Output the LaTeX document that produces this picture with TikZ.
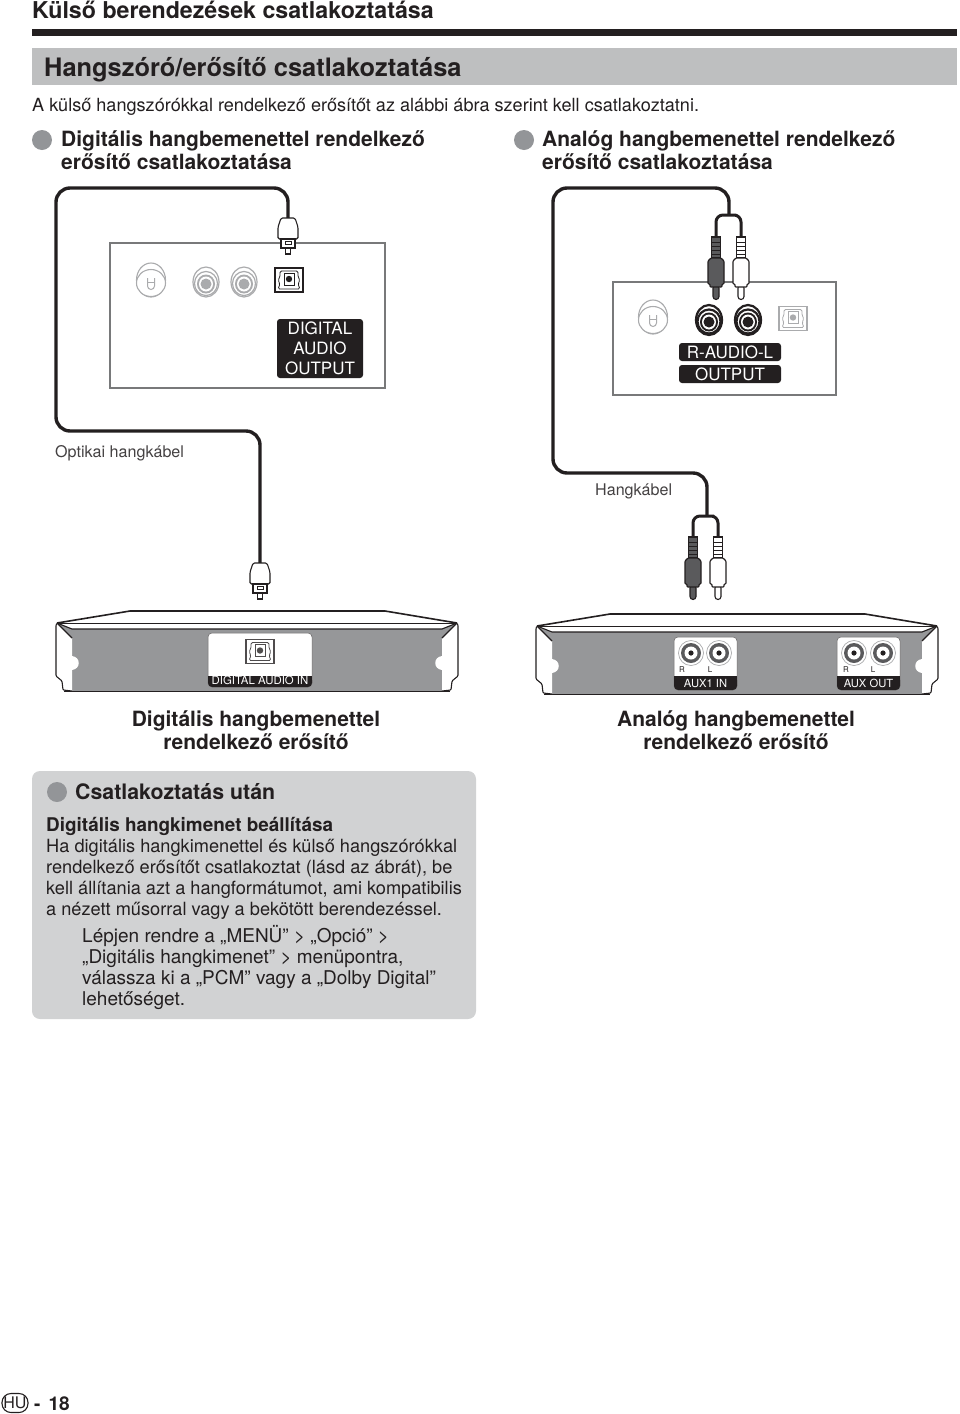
\documentclass[tikz,border=0pt]{standalone}
\usepackage{fontspec}
\setmainfont{TeX Gyre Heros}
\usepackage{tikz}
\definecolor{inkblack}{RGB}{35,31,32}
\definecolor{bandgray}{RGB}{190,191,192}
\definecolor{boxgray}{RGB}{209,210,211}
\definecolor{dotgray}{RGB}{147,149,152}
\definecolor{bodygray}{RGB}{150,151,153}
\definecolor{plugdark}{RGB}{90,90,92}
\definecolor{jackgray}{RGB}{170,171,173}
\tikzset{
  txt/.style={anchor=base west,inner sep=0pt,text=inkblack,align=left},
  cable/.style={draw=inkblack,line width=3.4,rounded corners=14},
  branch/.style={draw=inkblack,line width=3,rounded corners=7},
  tag/.style={fill=inkblack,rounded corners=3,text=white,inner sep=0pt,align=center},
  dot/.style={circle,fill=dotgray,minimum size=20,inner sep=0pt},
  outline/.style={draw=inkblack,line width=1.1}
}
% optical plug, top centre at (#1,#2)
\newcommand{\optplug}[2]{
  \begin{scope}[shift={(#1,#2)}]
    \filldraw[fill=white,draw=inkblack,line width=1.1,rounded corners=1.5]
      (-7,0)--(7,0)--(10,9)--(10,21)--(-10,21)--(-10,9)--cycle;
    \filldraw[fill=white,outline] (-7,21) rectangle (7,30);
    \draw[line width=.8,draw=inkblack] (-3,23) rectangle (3,26.5);
    \filldraw[fill=white,outline] (-2.5,30) rectangle (2.5,36);
  \end{scope}}
% RCA plug, top centre at (#1,#2), body colour #3
\newcommand{\rcaplug}[3]{
  \begin{scope}[shift={(#1,#2)}]
    \filldraw[fill=#3,outline] (-4.5,0) rectangle (4.5,21);
    \foreach \yb in {5,9,13,17}{\draw[draw=inkblack,line width=.9] (-4.5,\yb)--(4.5,\yb);}
    \filldraw[fill=#3,outline,rounded corners=3] (-3,48)--(-3,62.5)--(3,62.5)--(3,48)--cycle;
    \filldraw[fill=#3,outline,rounded corners=.8] (-5,21)--(5,21)--(8,24)--(8,47)--(6,47)--(6,50)--(-6,50)--(-6,47)--(-8,47)--(-8,24)--cycle;
  \end{scope}}
% optical socket, centre (#1,#2), colour #3
\newcommand{\optjack}[3]{
  \begin{scope}[shift={(#1,#2)}]
    \draw[draw=#3,line width=1.2,fill=white] (-14,-12) rectangle (14,12);
    \draw[draw=#3,line width=.8,rounded corners=1.5] (-9,-9)--(9,-9)--(9,-3)--(11,0)--(9,4)--(11,9)--(-11,9)--(-9,4)--(-11,0)--(-9,-3)--cycle;
    \filldraw[draw=#3,line width=.8,fill=white] (-5,-7) rectangle (5,5);
    \fill[#3] (0,-1) circle (3.2);
  \end{scope}}
% RCA socket on a panel, centre (#1,#2), colour #3, barrel width #4
\newcommand{\panjack}[4]{
  \begin{scope}[shift={(#1,#2)}]
    \filldraw[draw=#3,line width=#4,fill=white] (0,0) ellipse (13 and 15);
    \filldraw[draw=#3,line width=#4,fill=white] (0,1.5) ellipse (11.5 and 12);
    \fill[#3] (0,2) ellipse (9 and 9.5);
    \fill[white] (0,2) ellipse (7 and 7.5);
    \fill[#3] (0,2) ellipse (5.5 and 5.5);
  \end{scope}}
% antenna socket, centre (#1,#2)
\newcommand{\antjack}[2]{
  \begin{scope}[shift={(#1,#2)}]
    \filldraw[draw=jackgray,line width=1.1,fill=white] (0,0) ellipse (14.5 and 17);
    \filldraw[draw=jackgray,line width=1.1,fill=white] (0,3) ellipse (14.5 and 13.5);
    \draw[draw=jackgray,line width=1] (-3.5,-2)--(-3.5,6) arc (180:0:3.5)--(3.5,-2);
    \draw[draw=jackgray,line width=1] (-3.5,2)--(3.5,2);
  \end{scope}}
% RCA socket on the rear of the amplifier
\newcommand{\auxjack}[2]{
  \draw[draw=jackgray,line width=.7] (#1,#2) circle (12.5);
  \fill[plugdark] (#1,#2) circle (10);
  \fill[white] (#1,#2) circle (6.5);
  \fill[inkblack] (#1,#2) circle (2.6);}
\begin{document}
\begin{tikzpicture}[x=1pt,y=-1pt]
  \useasboundingbox (0,0) rectangle (960,1414);
  \fill[white] (0,0) rectangle (960,1414);

  % headings
  \node[txt,font=\bfseries\fontsize{23.2}{26}\selectfont] (maintitle) at (32,18) {Külső berendezések csatlakoztatása};
  \fill[inkblack] (32,29) rectangle (957,36);
  \fill[bandgray] (32,48) rectangle (957,85);
  \node[txt,font=\bfseries\fontsize{25.4}{28}\selectfont] (subtitle) at (44,76) {Hangszóró/erősítő csatlakoztatása};
  \node[txt,font=\fontsize{18.1}{24}\selectfont] (intro) at (32,111) {A külső hangszórókkal rendelkező erősítőt az alábbi ábra szerint kell csatlakoztatni.};
  \node[dot] (dotdig) at (42,140) {};
  \node[dot] (dotana) at (524,140) {};
  \node[txt,font=\bfseries\fontsize{21}{23}\selectfont] (headdig) at (61,169) {Digitális hangbemenettel rendelkező\\erősítő csatlakoztatása};
  \node[txt,font=\bfseries\fontsize{21}{23}\selectfont] (headana) at (542,169) {Analóg hangbemenettel rendelkező\\erősítő csatlakoztatása};

  % TV panels
  \draw[draw=bodygray!80!black,line width=1.1,fill=white] (110,243) rectangle (385,388);
  \antjack{151}{280}
  \panjack{206}{282}{jackgray}{1.2}
  \panjack{244}{282}{jackgray}{1.2}
  \optjack{289}{280}{inkblack}
  \node[tag,minimum width=86,minimum height=59,font=\fontsize{17}{20}\selectfont] (digout) at (320,348.5) {DIGITAL\\AUDIO\\OUTPUT};

  \draw[draw=bodygray!80!black,line width=1.1,fill=white] (613,282) rectangle (836,395);
  \antjack{653}{317}
  \panjack{709}{320}{inkblack}{2.2}
  \panjack{748}{320}{inkblack}{2.2}
  \optjack{793}{318.5}{jackgray}
  \node[tag,minimum width=102,minimum height=18,font=\fontsize{17}{20}\selectfont] (audiolr) at (730,352) {R-AUDIO-L};
  \node[tag,minimum width=102,minimum height=18,font=\fontsize{17}{20}\selectfont] (audioout) at (730,374) {OUTPUT};

  % cables
  \coordinate (optA) at (288,220);
  \coordinate (optB) at (260,565);
  \coordinate (rcaA) at (729,215);
  \coordinate (rcaB) at (707,516);
  \coordinate (rcaAl) at (716,238);
  \coordinate (rcaAr) at (741,238);
  \coordinate (rcaBl) at (693,538);
  \coordinate (rcaBr) at (718,538);
  \draw[cable] (optA) |- (56,188) -- (56,431) -| (optB);
  \draw[cable] (rcaA) |- (553,188) -- (553,473) -| (rcaB);
  \draw[branch] (rcaAl) |- (729,215) -| (rcaAr);
  \draw[branch] (rcaBl) |- (707,516) -| (rcaBr);

  % plugs
  \optplug{288}{218}
  \optplug{260}{563}
  \rcaplug{716}{237}{plugdark}
  \rcaplug{741}{237}{white}
  \rcaplug{693}{537}{plugdark}
  \rcaplug{718}{537}{white}

  \node[txt,font=\fontsize{16.1}{20}\selectfont,text=inkblack!85] (optlabel) at (55,457) {Optikai hangkábel};
  \node[txt,font=\fontsize{16.1}{20}\selectfont,text=inkblack!85] (anlabel) at (595,495) {Hangkábel};

  % amplifiers
  \foreach \dx/\dy in {0/0,480/3}{
    \begin{scope}[shift={(\dx,\dy)}]
      \filldraw[fill=white,draw=inkblack,line width=1.6]
        (57,623)--(130,611)--(385,611)--(457,623);
      \draw[draw=inkblack,line width=.7] (57,623)--(457,623);
      \fill[bodygray] (57,623)--(72,629)--(442,629)--(457,623)--(442,640)--(442,691)--(72,691)--(72,640)--cycle;
      \draw[draw=inkblack,line width=1.1] (57,623)--(72,629)--(442,629)--(457,623);
      \draw[draw=inkblack,line width=1.6] (64,691.5)--(450,691.5);
      % left ear
      \fill[white] (57,623)--(72,638)--(72,656) .. controls (81,657) and (81,669) .. (72,670)--(72,691)--(63,690)--(62,681)--(56,676)--(56,625)--cycle;
      \draw[draw=inkblack,line width=1.1,rounded corners=1] (72,638)--(57,623)--(56,625)--(56,676)--(62,681)--(63,690)--(72,691);
      % right ear
      \fill[white] (457,623)--(442,638)--(442,656) .. controls (433,657) and (433,669) .. (442,670)--(442,691)--(451,690)--(452,681)--(458,676)--(458,625)--cycle;
      \draw[draw=inkblack,line width=1.1,rounded corners=1] (442,638)--(457,623)--(458,625)--(458,676)--(452,681)--(451,690)--(442,691);
    \end{scope}}

  % connector fields
  \filldraw[fill=white,draw=inkblack!70,line width=.5,rounded corners=4] (208,633) rectangle (312,687);
  \fill[inkblack,rounded corners=4] (208,676) rectangle (312,687);
  \fill[inkblack] (208,676) rectangle (312,680);
  \optjack{260}{651.5}{inkblack!80}
  \node[inner sep=0pt,text=white,font=\fontsize{11.4}{14}\selectfont] (digin) at (260,680.5) {DIGITAL AUDIO IN};

  \foreach \px/\lab/\ja/\jb/\ra/\rb in {674/AUX1 IN/691/719/682/710,837/AUX OUT/854/883/846/873}{
    \filldraw[fill=white,draw=inkblack!70,line width=.5,rounded corners=4] (\px,637) rectangle ({\px+63},690);
    \fill[inkblack,rounded corners=4] (\px,676) rectangle ({\px+63},690);
    \fill[inkblack] (\px,676) rectangle ({\px+63},680);
    \auxjack{\ja}{653}
    \auxjack{\jb}{653}
    \node[inner sep=0pt,text=inkblack,font=\fontsize{8}{9}\selectfont] at (\ra,670) {R};
    \node[inner sep=0pt,text=inkblack,font=\fontsize{8}{9}\selectfont] at (\rb,670) {L};
    \node[inner sep=0pt,text=white,font=\fontsize{11.2}{14}\selectfont] at ({\px+31.5},683.5) {\lab};
  }

  \node[anchor=base,inner sep=0pt,align=center,text=inkblack,font=\bfseries\fontsize{21}{23}\selectfont] (ampdig) at (256,749) {Digitális hangbemenettel\\rendelkező erősítő};
  \node[anchor=base,inner sep=0pt,align=center,text=inkblack,font=\bfseries\fontsize{21}{23}\selectfont] (ampana) at (736,749) {Analóg hangbemenettel\\rendelkező erősítő};

  % note box
  \fill[boxgray,rounded corners=8] (32,771) rectangle (476,1019);
  \node[dot] (dotnote) at (57,792) {};
  \node[txt,font=\bfseries\fontsize{21.3}{24}\selectfont] (notehead) at (75,799) {Csatlakoztatás után};
  \node[txt,font=\bfseries\fontsize{18.9}{21}\selectfont] (notesub) at (46,831) {Digitális hangkimenet beállítása};
  \node[txt,font=\fontsize{18.2}{21}\selectfont] (notebody) at (46,915) {Ha digitális hangkimenettel és külső hangszórókkal\\rendelkező erősítőt csatlakoztat (lásd az ábrát), be\\kell állítania azt a hangformátumot, ami kompatibilis\\a nézett műsorral vagy a bekötött berendezéssel.};
  \node[txt,font=\fontsize{19}{21}\selectfont] (notestep) at (82,1005) {Lépjen rendre a „MENÜ” > „Opció” >\\„Digitális hangkimenet” > menüpontra,\\válassza ki a „PCM” vagy a „Dolby Digital”\\lehetőséget.};

  % page number
  \node[draw=inkblack,line width=1.1,rounded corners=9,inner sep=0pt,minimum width=26,minimum height=19,text=inkblack,font=\fontsize{16}{16}\selectfont] (hubadge) at (15,1403) {HU};
  \node[txt,font=\bfseries\fontsize{19}{22}\selectfont] (pagenum) at (34,1410) {-\hspace{8pt}18};
\end{tikzpicture}
\end{document}
